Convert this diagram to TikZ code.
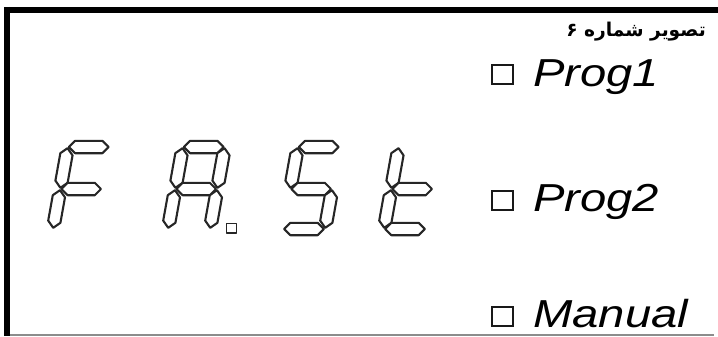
\documentclass[tikz,border=0pt]{standalone}
\usepackage{fontspec}
\setmainfont{Liberation Sans}
\newfontfamily\arabicfont[Script=Arabic]{DejaVu Sans}
\TeXXeTstate=1
\newcommand{\sgg}{1.2}
\newcommand{\sgh}{6.2}
\newcommand{\sgslant}{0.18}
\newcommand{\sgW}{42}
\tikzset{segstyle/.style={draw=black!85,line width=2.1pt,fill=white,line join=round},
  frameline/.style={line width=6pt,black},
  modelabel/.style={font=\fontsize{39}{39}\selectfont\itshape,inner sep=0pt,anchor=base west,xscale=1.21},
  checkbox/.style={draw=black!90,line width=1.7pt,minimum width=21pt,minimum height=19pt,inner sep=0pt,anchor=south west}}
\newcommand{\sgseg}[4]{%
  \pgfmathsetmacro\sgdx{#3-(#1)}\pgfmathsetmacro\sgdy{#4-(#2)}%
  \pgfmathsetmacro\sglen{veclen(\sgdx,\sgdy)}%
  \pgfmathsetmacro\sgux{\sgdx/\sglen}\pgfmathsetmacro\sguy{\sgdy/\sglen}%
  \pgfmathsetmacro\sgax{#1+\sgg*\sgux}\pgfmathsetmacro\sgay{#2+\sgg*\sguy}%
  \pgfmathsetmacro\sgbx{#3-\sgg*\sgux}\pgfmathsetmacro\sgby{#4-\sgg*\sguy}%
  \draw[segstyle] (\sgax,\sgay)
    -- ({\sgax+\sgh*(\sgux-\sguy)},{\sgay+\sgh*(\sguy+\sgux)})
    -- ({\sgbx+\sgh*(-\sgux-\sguy)},{\sgby+\sgh*(-\sguy+\sgux)})
    -- (\sgbx,\sgby)
    -- ({\sgbx+\sgh*(-\sgux+\sguy)},{\sgby+\sgh*(-\sguy-\sgux)})
    -- ({\sgax+\sgh*(\sgux+\sguy)},{\sgay+\sgh*(\sguy-\sgux)})
    -- cycle;}
\newcommand{\sgdigit}[1]{%
  \pgfmathsetmacro\BLx{#1}\pgfmathsetmacro\BRx{#1+\sgW}%
  \pgfmathsetmacro\MLx{#1+\sgslant*40}\pgfmathsetmacro\MRx{\MLx+\sgW}%
  \pgfmathsetmacro\TLx{#1+\sgslant*82}\pgfmathsetmacro\TRx{\TLx+\sgW}}
\newcommand{\sga}{\sgseg{\TLx}{147}{\TRx}{147}}
\newcommand{\sgb}{\sgseg{\TRx}{147}{\MRx}{189}}
\newcommand{\sgc}{\sgseg{\MRx}{189}{\BRx}{229}}
\newcommand{\sgd}{\sgseg{\BLx}{229}{\BRx}{229}}
\newcommand{\sge}{\sgseg{\MLx}{189}{\BLx}{229}}
\newcommand{\sgf}{\sgseg{\TLx}{147}{\MLx}{189}}
\newcommand{\sgm}{\sgseg{\MLx}{189}{\MRx}{189}}
\begin{document}
\begin{tikzpicture}[x=1pt,y=-1pt]
\useasboundingbox (0,0) rectangle (718,337);
\fill[white] (0,0) rectangle (718,337);
% frame
\draw[black!45,line width=1.5pt] (5,335) -- (714,335);
\draw[frameline] (4,10) -- (718,10);
\draw[frameline] (7,7) -- (7,336);
% digit F
\sgdigit{53}\sga\sgf\sge\sgm
% digit A with point
\sgdigit{168}\sga\sgb\sgc\sge\sgf\sgm
\draw[segstyle,line width=1.6pt] (226.5,223.5) rectangle (236.5,233);
% digit S
\sgdigit{283}\sga\sgf\sgm\sgc\sgd
% digit t
\sgdigit{384}\sgf\sgm\sge\sgd
% title
\node[anchor=base east,inner sep=0pt,xscale=0.98,font=\fontsize{19}{19}\selectfont\arabicfont\bfseries] (title) at (706,37) {\beginR تصویر شماره ۶\endR};
% modes
\node[checkbox] (box1) at (491,85) {};
\node[modelabel] (p1) at (533,86) {Prog1};
\node[checkbox] (box2) at (491,211) {};
\node[modelabel] (p2) at (533,211) {Prog2};
\node[checkbox] (box3) at (491,327) {};
\node[modelabel] (man) at (533,327) {Manual};
\end{tikzpicture}
\end{document}
